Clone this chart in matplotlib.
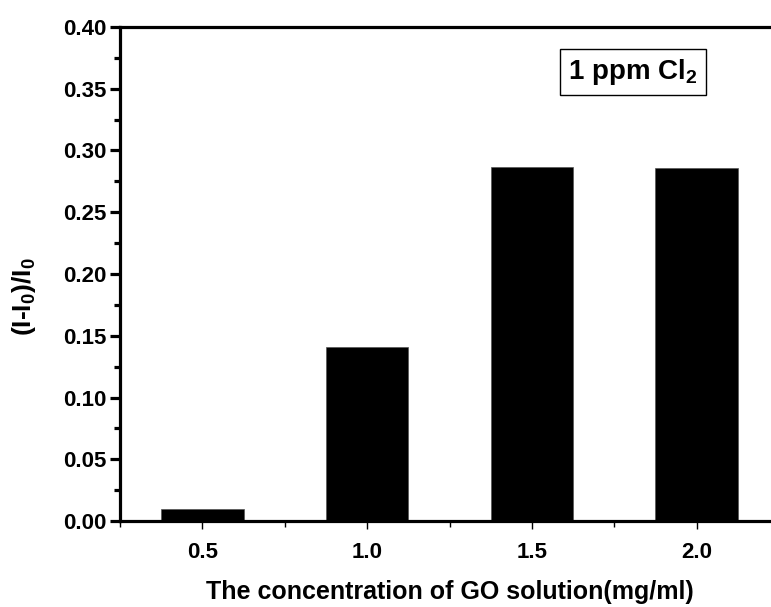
import matplotlib.pyplot as plt
from matplotlib.ticker import MultipleLocator

plt.rcParams['font.family'] = 'Liberation Sans'
plt.rcParams['font.weight'] = 'bold'
plt.rcParams['mathtext.fontset'] = 'custom'
plt.rcParams['mathtext.bf'] = 'Liberation Sans:bold'
plt.rcParams['mathtext.rm'] = 'Liberation Sans:bold'

# Dados
concentracao = [0.5, 1.0, 1.5, 2.0]
resposta = [0.010, 0.141, 0.287, 0.286]
rotulos_x = ['0.5', '1.0', '1.5', '2.0']

fig = plt.figure(figsize=(7.71, 6.07), dpi=100)
ax = fig.add_axes([120 / 771, 86 / 607, 659 / 771, 494 / 607])

ax.bar(concentracao, resposta, width=0.25, color='black', edgecolor='#555555', linewidth=0.5)

ax.set_xlim(0.25, 2.25)
ax.set_ylim(0, 0.40)
ax.set_xticks(concentracao)
ax.set_xticklabels(rotulos_x)
ax.xaxis.set_minor_locator(MultipleLocator(0.25))
ax.yaxis.set_major_locator(MultipleLocator(0.05))
ax.yaxis.set_minor_locator(MultipleLocator(0.025))
ax.yaxis.set_major_formatter(plt.FormatStrFormatter('%.2f'))

for lado in ['left', 'bottom', 'top']:
    ax.spines[lado].set_linewidth(2.3)
ax.spines['right'].set_visible(False)

ax.tick_params(axis='y', which='major', direction='out', length=7, width=2.3, labelsize=16, pad=3)
ax.tick_params(axis='y', which='minor', direction='out', length=4, width=2.3)
ax.tick_params(axis='x', which='major', direction='out', length=6, width=1, labelsize=16, pad=9)
ax.tick_params(axis='x', which='minor', direction='out', length=4, width=1)

ax.set_xlabel('The concentration of GO solution(mg/ml)', fontsize=18, fontweight='bold', labelpad=12)
ax.set_ylabel(r'(I-I$_\mathbf{0}$)/I$_\mathbf{0}$', fontsize=19, fontweight='bold')
ax.yaxis.set_label_coords(-0.124, 0.455)

ax.text(0.778, 0.909, r'1 ppm Cl$_\mathbf{2}$', transform=ax.transAxes, fontsize=20, fontweight='bold',
        ha='center', va='center',
        bbox=dict(boxstyle='square,pad=0.3', facecolor='white', edgecolor='black', linewidth=1))

plt.savefig('out.png', dpi=100)
